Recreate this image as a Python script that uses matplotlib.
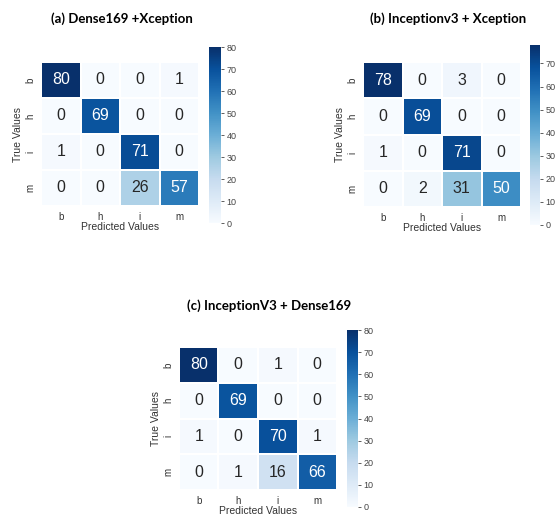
import matplotlib
matplotlib.use('Agg')
import matplotlib.pyplot as plt
import seaborn as sns
import numpy as np

labels = ["b", "h", "i", "m"]

cm_dense_xcep = [[80, 0, 0, 1],
                 [0, 69, 0, 0],
                 [1, 0, 71, 0],
                 [0, 0, 26, 57]]

cm_incep_xcep = [[78, 0, 3, 0],
                 [0, 69, 0, 0],
                 [1, 0, 71, 0],
                 [0, 2, 31, 50]]

cm_incep_dense = [[80, 0, 1, 0],
                  [0, 69, 0, 0],
                  [1, 0, 70, 1],
                  [0, 1, 16, 66]]

titles = ["(a) Dense169 +Xception", "(b) Inceptionv3 + Xception", "(c) InceptionV3 + Dense169"]

W, H = 558, 515
fig = plt.figure(figsize=(W / 100, H / 100), dpi=100)
plt.rcParams['font.family'] = ['Liberation Sans', 'DejaVu Sans']


def box(x0, y0, x1, y1):
    # pixel box -> figure fraction
    return [x0 / W, 1 - y1 / H, (x1 - x0) / W, (y1 - y0) / H]


# heatmap box, colorbar box, title center
layout = [
    (box(41, 62, 199, 206), box(209, 47, 221, 223), (122, 19)),
    (box(363, 62, 521, 207), box(530, 45, 540, 225), (448, 19)),
    (box(179, 347, 337, 490), box(347, 330, 358, 507), (269, 306)),
]

for cm, title, (hbox, cbox, tpos) in zip([cm_dense_xcep, cm_incep_xcep, cm_incep_dense], titles, layout):
    ax = fig.add_axes(hbox)
    cax = fig.add_axes(cbox)
    sns.heatmap(np.array(cm), annot=True, fmt="d", cmap="Blues", ax=ax, cbar_ax=cax,
                linewidths=0.3, linecolor="white",
                xticklabels=labels, yticklabels=labels,
                annot_kws={"size": 11.5})
    ax.tick_params(length=0, labelsize=7, colors="#333333", pad=4)
    ax.set_yticklabels(labels, rotation=90, va="center")
    ax.set_xlabel("Predicted Values", fontsize=7.5, color="#333333", labelpad=0)
    ax.set_ylabel("True Values", fontsize=7.5, color="#333333", labelpad=2)
    cax.tick_params(labelsize=6.5, colors="#444444", length=2.5, width=0.6, pad=1.5)
    cax.yaxis.set_major_locator(matplotlib.ticker.MultipleLocator(10))
    for s in cax.spines.values():
        s.set_visible(False)
    fig.text(tpos[0] / W, 1 - tpos[1] / H, title, ha="center", va="center",
             fontsize=9.5, fontweight="bold", family=["Lato", "DejaVu Sans"])

fig.savefig("out.png", dpi=100, facecolor="white")
